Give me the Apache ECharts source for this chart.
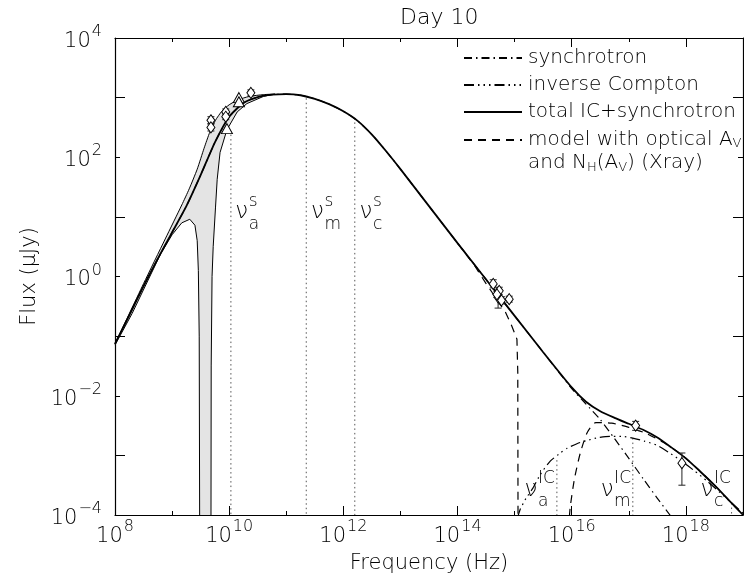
<!DOCTYPE html>
<html><head><meta charset="utf-8">
<script src="https://cdn.jsdelivr.net/npm/echarts@6/dist/echarts.min.js"></script>
<style>html,body{margin:0;padding:0;background:#fff}#c{width:744px;height:579px}</style>
</head><body><div id="c"></div>
<script>
// All values are log10 exponents: [log10 Frequency (Hz), log10 Flux (µJy)]
const xRange = [8, 19];
const yRange = [-4, 4];
const xLabelTicks = [8, 10, 12, 14, 16, 18];
const xMinorTicks = [9, 11, 13, 15, 17];
const yLabelTicks = [-4, -2, 0, 2, 4];
const yOddTicks = [-3, -1, 1, 3];

const totalCurve = [[8.0,-1.13],[8.25,-0.65],[8.5,-0.16],[8.75,0.3],[9.0,0.74],[9.25,1.18],[9.5,1.7],[9.75,2.25],[10.0,2.68],[10.25,2.91],[10.5,3.01],[10.75,3.05],[11.0,3.06],[11.25,3.04],[11.5,2.98],[11.75,2.89],[12.0,2.77],[12.25,2.61],[12.5,2.38],[12.75,2.1],[13.0,1.8],[13.5,1.18],[14.0,0.56],[14.5,-0.05],[15.0,-0.66],[15.5,-1.27],[16.0,-1.86],[16.25,-2.1],[16.5,-2.26],[16.75,-2.37],[17.0,-2.47],[17.25,-2.57],[17.5,-2.7],[17.75,-2.87],[18.0,-3.05],[18.25,-3.27],[18.5,-3.5],[18.75,-3.75],[19.0,-4.0]];
const synchrotronCurve = [[8.0,-1.13],[8.25,-0.65],[8.5,-0.16],[8.75,0.3],[9.0,0.74],[9.25,1.18],[9.5,1.7],[9.75,2.25],[10.0,2.68],[10.25,2.91],[10.5,3.01],[10.75,3.05],[11.0,3.06],[11.25,3.04],[11.5,2.98],[11.75,2.89],[12.0,2.77],[12.25,2.61],[12.5,2.38],[12.75,2.1],[13.0,1.8],[13.5,1.18],[14.0,0.56],[14.5,-0.05],[15.0,-0.66],[15.5,-1.27],[16.0,-1.88],[16.25,-2.14],[16.5,-2.4],[16.75,-2.72],[17.0,-3.05],[17.25,-3.39],[17.5,-3.72],[17.8,-4.1]];
const inverseComptonCurve = [[15.05,-4.05],[15.1,-3.9],[15.2,-3.72],[15.32,-3.55],[15.45,-3.32],[15.62,-3.1],[15.8,-2.96],[15.92,-2.88],[16.1,-2.8],[16.27,-2.75],[16.47,-2.7],[16.67,-2.68],[16.87,-2.68],[17.07,-2.71],[17.27,-2.76],[17.49,-2.83],[17.7,-2.95],[17.93,-3.1],[18.15,-3.26],[18.37,-3.43],[18.57,-3.6],[18.77,-3.77],[19.0,-3.97]];
const modelOpticalCurve = [[14.0,0.56],[14.3,0.18],[14.5,-0.12],[14.6,-0.26],[14.7,-0.41],[14.83,-0.58],[14.95,-0.83],[15.04,-1.05],[15.055,-1.6],[15.06,-4.5]];
const modelXrayCurve = [[15.93,-4.5],[15.97,-3.9],[16.05,-3.38],[16.15,-2.96],[16.27,-2.62],[16.42,-2.45],[16.7,-2.46],[17.0,-2.53],[17.3,-2.63],[17.6,-2.78],[17.9,-2.97],[18.2,-3.22],[18.5,-3.5],[18.75,-3.75],[19.0,-4.0]];
const bandUpper = [[8.0,-1.13],[8.5,-0.12],[8.88,0.63],[9.17,1.2],[9.3,1.47],[9.44,1.8],[9.56,2.15],[9.66,2.42],[9.76,2.62],[9.87,2.77],[10.0,2.88],[10.15,2.96],[10.35,3.02],[10.6,3.05],[10.8,3.06]];
const bandLower = [[8.0,-1.15],[8.3,-0.62],[8.58,-0.06],[8.8,0.38],[9.0,0.7],[9.17,0.9],[9.31,0.96],[9.4,0.86],[9.44,0.6],[9.46,0.1],[9.475,-1.0],[9.485,-5],[9.68,-5],[9.685,-1.5],[9.7,0.0],[9.72,0.5],[9.76,1.15],[9.79,1.63],[9.84,2.08],[9.96,2.46],[10.14,2.76],[10.31,2.9],[10.6,3.02],[10.8,3.06]];

// measured points: [logNu, logF, logLow, logHigh]
const radioDiamonds = [[9.68,2.62,2.56,2.68],[9.68,2.50,2.44,2.56],[9.94,2.76,2.71,2.81],[9.94,2.68,2.63,2.73],[10.38,3.08,3.03,3.13]];
const radioTriangles = [[9.96,2.48],[10.17,3.0],[10.17,2.93]];
const opticalPoints = [[14.625,-0.125,-0.19,-0.055],[14.73,-0.24,-0.30,-0.18],[14.71,-0.35,-0.53,-0.25],[14.69,-0.30,-0.35,-0.25],[14.77,-0.40,-0.46,-0.34],[14.905,-0.38,-0.43,-0.33]];
const xrayPoints = [[17.12,-2.50,-2.58,-2.43],[17.93,-3.13,-3.50,-2.96]];

// characteristic frequencies: [logNu, logF at top of dotted line]
const breakLines = [[10.03,2.38],[11.35,2.99],[12.2,2.66],[15.74,-3.08],[17.07,-2.71],[18.8,-3.8]];
const breakLabels = [[10.22,1.08,'s','a'],[11.546,1.08,'s','m'],[12.396,1.08,'s','c'],[15.285,-3.58,'IC','a'],[16.62,-3.58,'IC','m'],[18.37,-3.58,'IC','c']];

const FONT = "'DejaVu Sans'";
const W = 200;
const chart = echarts.init(document.getElementById('c'), null, {renderer: 'canvas'});

const expLabel = {
  formatter: v => '{b|10}{e|' + String(v).replace('-', '\u2212') + '}',
  rich: {
    b: {fontSize: 21, fontFamily: FONT, fontWeight: W, color: '#000', lineHeight: 28, verticalAlign: 'bottom'},
    e: {fontSize: 16, fontFamily: FONT, fontWeight: W, color: '#000', lineHeight: 14, verticalAlign: 'top', padding: [0,0,0,1]}
  }
};
const axLine = {show: true, onZero: false, lineStyle: {color: '#000', width: 1.2}};
function xAx(pos, ticks, len, labels, line) {
  return {type: 'value', position: pos, min: xRange[0], max: xRange[1], interval: 1,
    splitLine: {show: false}, axisLine: line ? axLine : {show: false, onZero: false},
    axisTick: {show: true, inside: true, length: len, customValues: ticks, lineStyle: {color: '#000', width: 1}},
    axisLabel: labels ? Object.assign({show: true, customValues: xLabelTicks, margin: 4}, expLabel) : {show: false},
    name: (labels ? 'Frequency (Hz)' : ''), nameLocation: 'middle', nameGap: 38,
    nameTextStyle: {fontSize: 21, fontFamily: FONT, fontWeight: W, color: '#000'}};
}
function yAx(pos, ticks, len, labels, line) {
  return {type: 'value', position: pos, min: yRange[0], max: yRange[1], interval: 1,
    splitLine: {show: false}, axisLine: line ? axLine : {show: false, onZero: false},
    axisTick: {show: true, inside: true, length: len, customValues: ticks, lineStyle: {color: '#000', width: 1}},
    axisLabel: labels ? Object.assign({show: true, customValues: yLabelTicks, margin: 13}, expLabel) : {show: false},
    name: (labels ? 'Flux (\u03bcJy)' : ''), nameLocation: 'middle', nameGap: 74, nameRotate: 90,
    nameTextStyle: {fontSize: 21, fontFamily: FONT, fontWeight: W, color: '#000'}};
}

const lineBase = (name, data, type, width, z, smooth) => ({
  type: 'line', name, data, symbol: 'none', clip: true, z: z || 3,
  smooth: smooth === undefined ? 0.2 : smooth,
  lineStyle: {color: '#000', width: width || 1.2, type: type || 'solid'},
  itemStyle: {color: '#000'}, silent: true
});

const errorBars = (data) => ({
  type: 'custom', data, z: 6, clip: false, silent: true,
  encode: {x: 0, y: 1},
  renderItem: (params, api) => {
    const x = api.value(0);
    const a = api.coord([x, api.value(2)]), b = api.coord([x, api.value(3)]);
    const w = 3.5, st = {stroke: '#222', lineWidth: 1};
    return {type: 'group', children: [
      {type: 'line', shape: {x1: a[0], y1: a[1], x2: b[0], y2: b[1]}, style: st},
      {type: 'line', shape: {x1: a[0]-w, y1: a[1], x2: a[0]+w, y2: a[1]}, style: st},
      {type: 'line', shape: {x1: b[0]-w, y1: b[1], x2: b[0]+w, y2: b[1]}, style: st}
    ]};
  }
});
const hollow = (data, symbol, size) => ({
  type: 'scatter', data: data.map(d => [d[0], d[1]]), symbol, symbolSize: size, z: 7, silent: true,
  itemStyle: {color: '#fff', borderColor: '#000', borderWidth: 1, opacity: 1}
});

const legendNames = ['synchrotron', 'inverse Compton', 'total IC+synchrotron', 'model with optical A_V'];

const option = {
  animation: false,
  backgroundColor: '#fff',
  title: {text: 'Day 10', left: 395, top: 2,
    textStyle: {fontSize: 22, fontFamily: FONT, fontWeight: W, color: '#000'}},
  grid: {left: 115, right: 1, top: 38, bottom: 62, containLabel: false},
  legend: {
    orient: 'vertical', left: 458, top: 43, itemWidth: 58, itemHeight: 10, itemGap: 7,
    data: legendNames, selectedMode: false,
    itemStyle: {color: 'rgba(0,0,0,0)', borderColor: 'rgba(0,0,0,0)', borderWidth: 0},
    textStyle: {fontSize: 20, fontFamily: FONT, fontWeight: W, color: '#000', lineHeight: 20, padding: [0,0,0,1],
      rich: {t: {fontSize: 20, fontFamily: FONT, fontWeight: W, lineHeight: 20},
             s: {fontSize: 13, fontFamily: FONT, fontWeight: W, lineHeight: 20, verticalAlign: 'bottom', padding: [8,0,0,0]}}},
    formatter: n => n === 'model with optical A_V' ? '{t|model with optical A}{s|V}' : n
  },
  graphic: [{type: 'text', left: 528, top: 151,
    style: {rich: {t: {fontSize: 20, fontFamily: FONT, fontWeight: W, fill: '#000', lineHeight: 22},
                   s: {fontSize: 13, fontFamily: FONT, fontWeight: W, fill: '#000', lineHeight: 22, padding: [10,0,0,0]}},
      text: '{t|and N}{s|H}{t|(A}{s|V}{t|) (Xray)}'}}],
  xAxis: [
    xAx('bottom', xMinorTicks, 4, true, true),
    xAx('bottom', xLabelTicks, 9, false, false),
    xAx('top', xMinorTicks, 4, false, true),
    xAx('top', xLabelTicks, 9, false, false)
  ],
  yAxis: [
    yAx('left', yLabelTicks, 5, true, true),
    yAx('left', yOddTicks, 10, false, false),
    yAx('right', yLabelTicks, 5, false, true),
    yAx('right', yOddTicks, 10, false, false)
  ],
  series: [
    {type: 'custom', silent: true, z: 1, clip: true, data: [[bandUpper[0][0], bandUpper[0][1]]], encode: {x: 0, y: 1},
     renderItem: (params, api) => {
       const pts = bandUpper.map(p => api.coord([p[0], Math.max(p[1], yRange[0])]))
         .concat(bandLower.slice().reverse().map(p => api.coord([p[0], Math.max(p[1], yRange[0])])));
       return {type: 'polygon', shape: {points: pts}, style: {fill: '#e4e4e4', stroke: null}};
     }},
    lineBase('bandUpper', bandUpper, 'solid', 1, 2, 0.2),
    lineBase('bandLower', bandLower, 'solid', 1, 2, 0),
    ...breakLines.map(b => ({type: 'line', data: [[b[0], b[1]], [b[0], yRange[0]]], symbol: 'none', silent: true, z: 2,
      lineStyle: {color: '#555', width: 1, type: [1.5, 3]}})),
    lineBase('model with optical A_V', modelOpticalCurve, [8, 6], 1.2, 3, 0),
    lineBase('model with optical A_V', modelXrayCurve, [8, 6], 1.2, 3, 0.2),
    lineBase('inverse Compton', inverseComptonCurve, [10, 4, 1.5, 4, 1.5, 4, 1.5, 4], 1.2, 3),
    lineBase('synchrotron', synchrotronCurve, [8, 4, 1.5, 4], 1.2, 3),
    lineBase('total IC+synchrotron', totalCurve, 'solid', 1.8, 4),
    errorBars(radioDiamonds), errorBars(opticalPoints), errorBars(xrayPoints),
    hollow(radioDiamonds, 'diamond', [8, 11]),
    hollow(opticalPoints, 'diamond', [8, 11]),
    hollow(xrayPoints, 'diamond', [8, 11]),
    hollow(radioTriangles, 'triangle', [11, 10]),
    {type: 'custom', silent: true, z: 8, clip: false, data: breakLabels.map(b => [b[0], b[1]]), encode: {x: 0, y: 1},
     renderItem: (params, api) => {
       const it = breakLabels[params.dataIndex];
       const p = api.coord([it[0], it[1]]);
       const f = {fontFamily: FONT, fontWeight: W, fill: '#000', verticalAlign: 'middle'};
       return {type: 'group', children: [
         {type: 'text', x: p[0], y: p[1], style: Object.assign({text: '\u03bd', fontSize: 23, align: 'center'}, f)},
         {type: 'text', x: p[0] + 7, y: p[1] - 11, style: Object.assign({text: it[2], fontSize: 17, align: 'left'}, f)},
         {type: 'text', x: p[0] + 7, y: p[1] + 12, style: Object.assign({text: it[3], fontSize: 17, align: 'left'}, f)}
       ]};
     }}
  ]
};
chart.setOption(option);
</script></body></html>
